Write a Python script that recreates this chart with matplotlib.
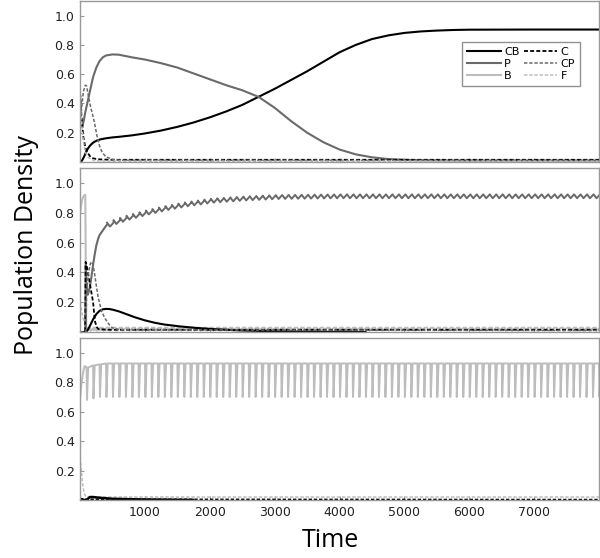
import numpy as np
import matplotlib
matplotlib.use("Agg")
import matplotlib.pyplot as plt
from matplotlib.lines import Line2D

# ---- panel 1: no dosing ----
t1 = [0, 10, 25, 40, 60, 80, 100, 125, 150, 175, 200, 250, 300, 350, 400, 500, 600,
      800, 1000, 1250, 1500, 1750, 2000, 2250, 2500, 2750, 3000, 3250, 3500, 3750,
      4000, 4250, 4500, 4750, 5000, 5250, 5500, 5750, 6000, 7000, 8000]
cb1 = [0.0, 0.002, 0.008, 0.018, 0.035, 0.055, 0.075, 0.095, 0.11, 0.122, 0.132, 0.145,
       0.153, 0.158, 0.162, 0.168, 0.172, 0.182, 0.195, 0.215, 0.24, 0.27, 0.305, 0.345,
       0.39, 0.445, 0.50, 0.56, 0.62, 0.685, 0.75, 0.80, 0.84, 0.865, 0.882, 0.892, 0.898,
       0.902, 0.904, 0.905, 0.905]
p1 = [0.45, 0.30, 0.24, 0.25, 0.29, 0.34, 0.38, 0.43, 0.48, 0.53, 0.58, 0.645, 0.69,
      0.715, 0.728, 0.735, 0.733, 0.715, 0.70, 0.675, 0.645, 0.605, 0.565, 0.525, 0.49,
      0.445, 0.37, 0.28, 0.20, 0.135, 0.085, 0.052, 0.032, 0.02, 0.015, 0.012, 0.011,
      0.01, 0.01, 0.01, 0.01]
tc1 = [0, 20, 50, 80, 100, 120, 160, 200, 230, 260, 300, 340, 400, 500, 600, 8000]
c1 = [0.47, 0.32, 0.17, 0.10, 0.075, 0.06, 0.035, 0.025, 0.022, 0.02, 0.018, 0.017,
      0.016, 0.015, 0.015, 0.015]
cp1 = [0.2, 0.35, 0.48, 0.525, 0.52, 0.47, 0.38, 0.31, 0.25, 0.18, 0.11, 0.065, 0.035,
       0.018, 0.012, 0.01]
f1 = [0.42, 0.28, 0.14, 0.07, 0.05, 0.035, 0.02, 0.013, 0.01, 0.009, 0.008, 0.007,
      0.006, 0.005, 0.005, 0.005]

# ---- panel 2 ----
t2 = [0, 20, 40, 60, 80, 88, 95, 120, 150, 175, 200, 225, 250, 275, 300, 340, 380, 415]
b2 = [0.80, 0.86, 0.90, 0.915, 0.92, 0.40, 0.02, 0.015, 0.015, 0.015, 0.015, 0.015,
      0.015, 0.015, 0.015, 0.015, 0.015, 0.015]
p2 = [0.0, 0.0, 0.0, 0.0, 0.0, 0.45, 0.33, 0.25, 0.30, 0.37, 0.45, 0.52, 0.58, 0.62,
      0.65, 0.675, 0.70, 0.72]
tenv2 = [415, 500, 700, 1000, 1300, 1600, 2000, 2500, 3000, 4000, 8000]
p2_env = [0.72, 0.735, 0.765, 0.80, 0.83, 0.855, 0.88, 0.895, 0.905, 0.91, 0.91]
tcb2 = [0, 90, 120, 150, 200, 250, 300, 350, 400, 450, 500, 600, 700, 850, 1000, 1150,
        1300, 1550, 1800, 2100, 2500, 3000, 3500, 4400]
cb2 = [0.0, 0.0, 0.015, 0.04, 0.085, 0.12, 0.142, 0.152, 0.155, 0.154, 0.15, 0.138,
       0.122, 0.098, 0.078, 0.062, 0.05, 0.037, 0.027, 0.018, 0.01, 0.005, 0.002, 0.0]
tc2 = [0, 80, 85, 100, 120, 140, 160, 180, 200, 215, 230, 255, 280, 330, 385, 490, 600,
       8000]
c2 = [0.0, 0.0, 0.47, 0.45, 0.40, 0.35, 0.30, 0.25, 0.20, 0.13, 0.07, 0.035, 0.02,
      0.018, 0.016, 0.015, 0.015, 0.015]
tcp2 = [0, 90, 100, 120, 140, 160, 180, 200, 220, 250, 280, 330, 385, 440, 490, 600, 8000]
cp2 = [0.0, 0.0, 0.25, 0.36, 0.42, 0.46, 0.47, 0.45, 0.40, 0.31, 0.23, 0.14, 0.09, 0.055,
       0.03, 0.015, 0.01]
tf2 = [0, 40, 90, 150]
f2 = [0.20, 0.10, 0.03, 0.02]

# ---- panel 3 ----
t3 = [0, 20, 40, 55, 70, 100]
b3 = [0.70, 0.79, 0.85, 0.885, 0.91, 0.90]
tenv3 = [100, 200, 300, 400, 8000]
b3_peak = [0.90, 0.915, 0.922, 0.928, 0.928]
b3_trough = [0.68, 0.69, 0.70, 0.70, 0.70]
tcb3 = [0, 100, 150, 200, 300, 500, 1000, 1740]
cb3 = [0.0, 0.0, 0.02, 0.02, 0.015, 0.008, 0.003, 0.0]
tf3 = [0, 15, 30, 45, 60, 80, 100, 8000]
f3 = [0.29, 0.22, 0.15, 0.09, 0.05, 0.03, 0.02, 0.02]
tc3 = [0, 100, 8000]
c3 = [0.01, 0.005, 0.003]

dose_period = 100  # spacing of the periodic spikes


def pulsed(t_env, top, bottom, start, rise, drop):
    # periodic line between two envelopes
    times = np.arange(start, 8001, dose_period)
    hi = np.interp(times, t_env, top)
    lo = np.interp(times, t_env, bottom)
    tt, vv = [], []
    for k in range(len(times)):
        tt += [times[k], times[k] + drop, times[k] + rise]
        vv += [hi[k], lo[k], hi[k]]
    return np.array(tt), np.array(vv)


BLACK = "black"
MID = "#6a6a6a"
LIGHT = "#bdbdbd"
dash = (0, (2.2, 1.2))

fig = plt.figure(figsize=(6, 5.58), dpi=100)
boxes = [[0.1335, 0.7097, 0.865, 0.2885],
         [0.1335, 0.405, 0.865, 0.294],
         [0.1335, 0.104, 0.865, 0.290]]
axes = [fig.add_axes(b) for b in boxes]

ax = axes[0]
ax.plot(t1, cb1, color=BLACK, lw=1.5)
ax.plot(t1, p1, color=MID, lw=1.5)
ax.plot(tc1, c1, color=BLACK, lw=1.3, ls=dash)
ax.plot(tc1, cp1, color=MID, lw=1.1, ls=dash)
ax.plot(tc1, f1, color=LIGHT, lw=1.1, ls=dash)

ax = axes[1]
ax.plot(t2, b2, color=LIGHT, lw=1.5)
tb, vb = pulsed([0, 8000], [0.03, 0.03], [0.008, 0.008], 150, 60, 10)
ax.plot(tb, vb, color=LIGHT, lw=1.2)
tf, vf = pulsed([0, 8000], [0.025, 0.025], [0.012, 0.012], 150, 60, 15)
ax.plot(tf2, f2, color=LIGHT, lw=1.1, ls=dash)
ax.plot(tf, vf, color=LIGHT, lw=1.0, ls=dash)
ax.plot(t2, p2, color=MID, lw=1.5)
p2_hi = [v + 0.013 for v in p2_env]
p2_lo = [v - 0.013 for v in p2_env]
tp, vp = pulsed(tenv2, p2_hi, p2_lo, 415, 100, 45)
ax.plot(tp, vp, color=MID, lw=1.4)
ax.plot(tcb2, cb2, color=BLACK, lw=1.5)
ax.plot(tc2, c2, color=BLACK, lw=1.3, ls=dash)
ax.plot(tcp2, cp2, color=MID, lw=1.1, ls=dash)

ax = axes[2]
ax.plot(t3, b3, color=LIGHT, lw=1.5)
ts, vs = pulsed(tenv3, b3_peak, b3_trough, 100, 25, 6)
ax.plot(ts, vs, color=LIGHT, lw=1.4)
ax.plot(tf3, f3, color=LIGHT, lw=1.1, ls=dash)
ax.plot(tc3, c3, color=BLACK, lw=1.1, ls=dash)
ax.plot(tcb3, cb3, color=BLACK, lw=1.8)

for i, ax in enumerate(axes):
    ax.set_xlim(0, 8000)
    ax.set_ylim(0, 1.1)
    ax.set_yticks([0.2, 0.4, 0.6, 0.8, 1.0])
    ax.set_yticklabels(["0.2", "0.4", "0.6", "0.8", "1.0"])
    ax.set_xticks([1000, 2000, 3000, 4000, 5000, 6000, 7000])
    ax.tick_params(direction="in", length=3, color="#999999", labelsize=9,
                   labelcolor="#222222", pad=4)
    if i < 2:
        ax.tick_params(axis="x", labelbottom=False)
    for s in ax.spines.values():
        s.set_color("#999999")
        s.set_linewidth(1.0)

handles = [Line2D([], [], color=BLACK, lw=1.5),
           Line2D([], [], color=MID, lw=1.5),
           Line2D([], [], color=LIGHT, lw=1.5),
           Line2D([], [], color=BLACK, lw=1.3, ls=dash),
           Line2D([], [], color=MID, lw=1.1, ls=dash),
           Line2D([], [], color=LIGHT, lw=1.1, ls=dash)]
labels = ["CB", "P", "B", "C", "CP", "F"]
leg = axes[0].legend(handles, labels, ncol=2, loc="upper right",
                     bbox_to_anchor=(0.963, 0.748), fontsize=8, frameon=True,
                     fancybox=False, handlelength=3.0, handletextpad=0.3,
                     columnspacing=0.4, labelspacing=0.18, borderpad=0.45,
                     borderaxespad=0.0)
leg.get_frame().set_edgecolor("#777777")
leg.get_frame().set_linewidth(1.0)

fig.text(0.55, 0.032, "Time", fontsize=18, ha="center", va="center",
         family="Open Sans")
fig.text(0.045, 0.561, "Population Density", fontsize=18, rotation=90,
         ha="center", va="center", family="Open Sans")

fig.savefig("out.png", dpi=100)
